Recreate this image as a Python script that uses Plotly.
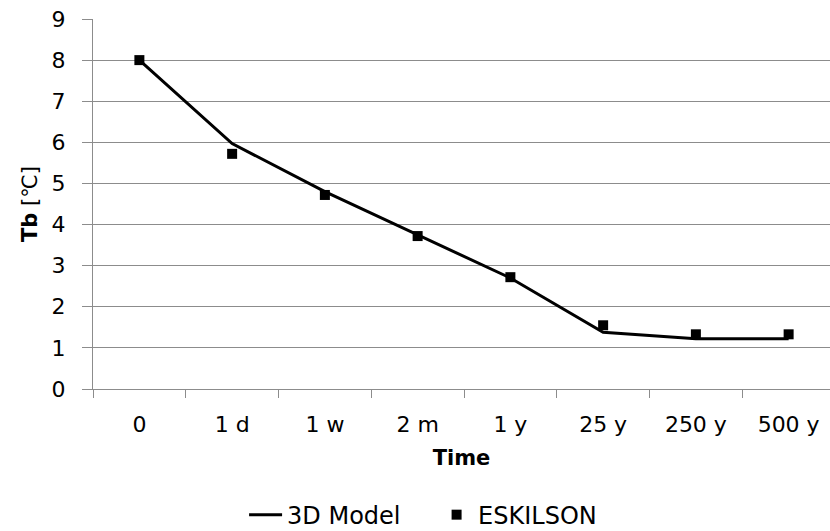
import plotly.graph_objects as go

# Time steps along the horizontal axis
time_labels = ["0", "1 d", "1 w", "2 m", "1 y", "25 y", "250 y", "500 y"]

# Borehole temperature Tb [°C]
model_3d = [8.0, 5.97, 4.80, 3.75, 2.70, 1.38, 1.22, 1.22]
eskilson = [8.0, 5.72, 4.72, 3.72, 2.72, 1.55, 1.33, 1.33]

FONT = "DejaVu Sans"
GRID = "#8c8c8c"

fig = go.Figure()
fig.add_trace(go.Scatter(
    x=time_labels, y=model_3d, mode="lines", name="3D Model",
    line=dict(color="black", width=3),
))
fig.add_trace(go.Scatter(
    x=time_labels, y=eskilson, mode="markers", name="ESKILSON",
    marker=dict(symbol="square", size=10, color="black"),
))

fig.update_layout(
    width=830, height=531,
    margin=dict(l=93, r=0, t=19, b=142, autoexpand=False),
    paper_bgcolor="white", plot_bgcolor="white",
    font=dict(family=FONT, size=21, color="black"),
    showlegend=True,
    legend=dict(
        orientation="h", x=0.205, xanchor="left",
        y=0.03, yanchor="middle", yref="container",
        font=dict(size=24), itemwidth=33, tracegroupgap=0,
        entrywidth=143, entrywidthmode="pixels",
    ),
    xaxis=dict(
        type="category", range=[-0.5, 7.446], automargin=False,
        tickson="boundaries", ticks="outside", ticklen=8, tickcolor=GRID,
        showgrid=False, showline=True, linecolor=GRID, linewidth=1,
        ticklabelstandoff=16, tickfont=dict(size=22),
        title=dict(text="<b>Time</b>", standoff=13, font=dict(size=21)),
    ),
    yaxis=dict(
        range=[0, 9], dtick=1, ticks="outside", ticklen=10, tickcolor=GRID,
        automargin=False,
        showgrid=True, gridcolor=GRID, gridwidth=1,
        showline=True, linecolor=GRID, linewidth=1, zeroline=False,
        ticklabelstandoff=12, tickfont=dict(size=22),
        title=dict(text="<b>Tb</b> [℃]", standoff=8, font=dict(size=21)),
    ),
)

fig.write_html("out.html")
